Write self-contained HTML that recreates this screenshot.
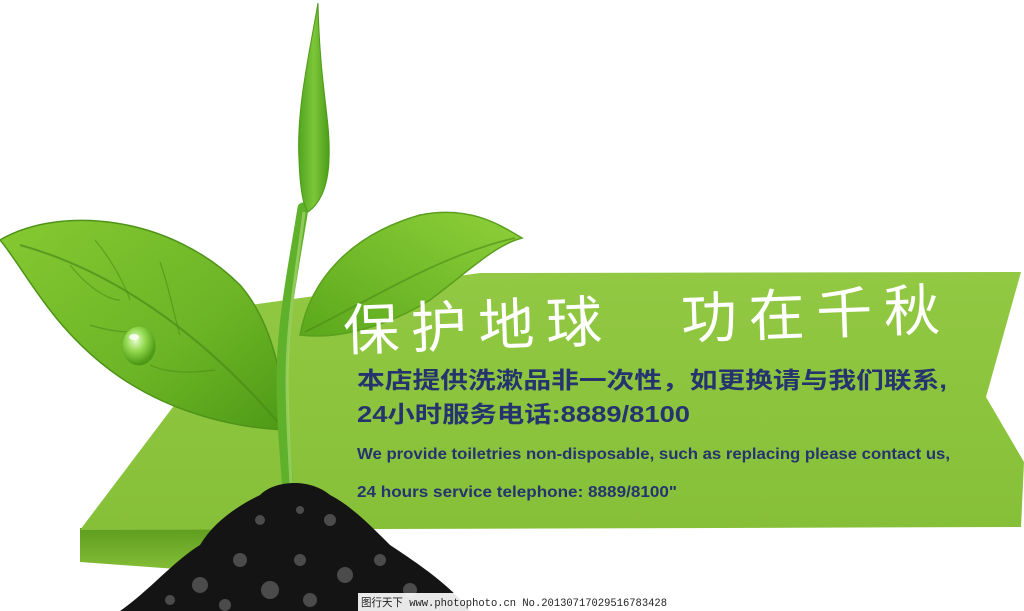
<!DOCTYPE html>
<html><head><meta charset="utf-8"><style>
html,body{margin:0;padding:0;background:#fff;}
svg{display:block}
</style></head><body>
<svg width="1024" height="611" viewBox="0 0 1024 611" xmlns="http://www.w3.org/2000/svg">
<defs>
<linearGradient id="rib" x1="0" y1="0" x2="0" y2="1"><stop offset="0" stop-color="#92c843"/><stop offset="1" stop-color="#86c038"/></linearGradient>
<linearGradient id="fold" x1="0" y1="0" x2="0" y2="1"><stop offset="0" stop-color="#5e9d1e"/><stop offset="1" stop-color="#8cc43c"/></linearGradient>
<linearGradient id="leafL" x1="0" y1="0" x2="1" y2="1"><stop offset="0" stop-color="#86c932"/><stop offset="0.6" stop-color="#6cb526"/><stop offset="1" stop-color="#4e9a16"/></linearGradient>
<linearGradient id="leafR" x1="1" y1="0" x2="0" y2="1"><stop offset="0" stop-color="#8fd03a"/><stop offset="1" stop-color="#5aa81c"/></linearGradient>
<linearGradient id="bud" x1="0" y1="0" x2="1" y2="0"><stop offset="0" stop-color="#4fa61c"/><stop offset="0.5" stop-color="#7cc63a"/><stop offset="1" stop-color="#4a9c18"/></linearGradient>
<radialGradient id="drop" cx="0.4" cy="0.35" r="0.6"><stop offset="0" stop-color="#e8ffd0"/><stop offset="0.5" stop-color="#8fd64a"/><stop offset="1" stop-color="#4e9a16"/></radialGradient>
</defs>

<polygon points="80,528 300,528 300,578 80,562" fill="url(#fold)"/>
<polygon points="250,305 480,273 1021,272 986,397 1024,462 1021,527 80,530" fill="url(#rib)"/>

<path d="M0,240 C60,205 170,215 240,285 C275,325 285,390 285,430 C240,428 170,415 110,370 C50,325 25,270 0,240 Z" fill="url(#leafL)" stroke="#4f9418" stroke-width="1.5"/>
<path d="M20,245 C110,270 200,330 283,428" fill="none" stroke="#4a8a18" stroke-width="2" opacity="0.7"/>
<path d="M95,240 C120,270 130,300 130,300 M160,262 C170,290 175,320 180,335 M70,265 C90,290 110,300 120,300 M150,330 C130,335 105,330 90,325 M215,370 C180,375 160,370 150,365" fill="none" stroke="#4a8a18" stroke-width="1.2" opacity="0.6"/>
<ellipse cx="139" cy="346" rx="17" ry="20" fill="url(#drop)" stroke="#6ab52a" stroke-width="1"/>
<ellipse cx="134" cy="337" rx="5" ry="3" fill="#fff" opacity="0.8"/>

<path d="M300,335 C310,280 350,235 420,215 C470,205 500,225 522,238 C495,245 470,270 430,300 C390,325 340,340 300,335 Z" fill="url(#leafR)" stroke="#5a9f1e" stroke-width="1.5"/>
<path d="M305,332 C370,300 440,255 515,238" fill="none" stroke="#4a8a18" stroke-width="1.8" opacity="0.6"/>

<path d="M303,208 C295,260 282,320 282,380 C282,440 290,500 292,545" fill="none" stroke="#5fb02a" stroke-width="11" stroke-linecap="round"/>
<path d="M304,212 C298,262 287,320 287,380 C287,440 293,500 294,545" fill="none" stroke="#a6d870" stroke-width="3" opacity="0.7"/>
<path d="M318,3 C310,50 296,110 299,160 C300,190 303,205 308,212 C318,205 328,190 329,160 C331,120 320,90 318,3 Z" fill="url(#bud)" stroke="#4f9a18" stroke-width="1"/>

<path d="M120,611 C150,590 175,560 200,545 C215,520 240,505 260,495 C275,480 310,478 330,495 C350,505 370,525 390,545 C420,565 450,585 470,611 Z" fill="#141414"/>
<g fill="#555" opacity="0.85">
<circle cx="200" cy="585" r="8"/><circle cx="240" cy="560" r="7"/><circle cx="270" cy="590" r="9"/><circle cx="300" cy="560" r="6"/><circle cx="330" cy="520" r="6"/><circle cx="345" cy="575" r="8"/><circle cx="380" cy="560" r="6"/><circle cx="410" cy="590" r="7"/><circle cx="260" cy="520" r="5"/><circle cx="310" cy="600" r="7"/><circle cx="225" cy="605" r="6"/><circle cx="365" cy="600" r="6"/><circle cx="300" cy="510" r="4"/><circle cx="170" cy="600" r="5"/>
</g>

<text x="343" y="340" font-family="'Noto Sans CJK SC',sans-serif" font-size="56" fill="#fff" textLength="597" lengthAdjust="spacing" transform="rotate(-2 640 320)">保护地球　功在千秋</text>
<text x="357" y="388" font-family="'Liberation Sans','Noto Sans CJK SC',sans-serif" font-size="23" font-weight="bold" fill="#25346e" textLength="590" lengthAdjust="spacingAndGlyphs">本店提供洗漱品非一次性，如更换请与我们联系,</text>
<text x="357" y="422" font-family="'Liberation Sans','Noto Sans CJK SC',sans-serif" font-size="23" font-weight="bold" fill="#25346e" textLength="333" lengthAdjust="spacingAndGlyphs">24小时服务电话:8889/8100</text>
<text x="357" y="459" font-family="'Liberation Sans',sans-serif" font-size="16" font-weight="bold" fill="#25346e" textLength="593" lengthAdjust="spacingAndGlyphs">We provide toiletries non-disposable, such as replacing please contact us,</text>
<text x="357" y="497" font-family="'Liberation Sans',sans-serif" font-size="16" font-weight="bold" fill="#25346e" textLength="320" lengthAdjust="spacingAndGlyphs">24 hours service telephone: 8889/8100"</text>

<rect x="358" y="593" width="312" height="18" fill="#fff" opacity="0.9"/>
<text x="361" y="606" font-family="'Liberation Mono','Noto Sans CJK SC',monospace" font-size="11" fill="#222" textLength="306" lengthAdjust="spacingAndGlyphs">图行天下 www.photophoto.cn  No.20130717029516783428</text>
</svg>
</body></html>
